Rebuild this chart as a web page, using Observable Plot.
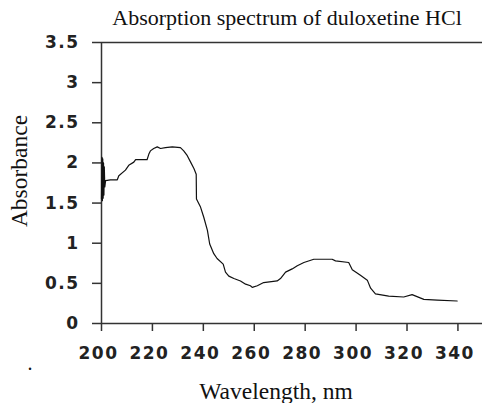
<!DOCTYPE html>
<html>
<head>
<meta charset="utf-8">
<script src="https://cdn.jsdelivr.net/npm/d3@7"></script>
<script src="https://cdn.jsdelivr.net/npm/@observablehq/plot@0.6"></script>
<style>
  html, body { margin: 0; padding: 0; background: #fff; }
  .chart g[aria-label$="tick label"] text { letter-spacing: 1.5px; }
</style>
</head>
<body>
<div id="chart"></div>
<script>
const titleText = "Absorption spectrum of duloxetine HCl";
const xLabel = "Wavelength, nm";
const yLabel = "Absorbance";
const xTicks = [200, 220, 240, 260, 280, 300, 320, 340];
const yTicks = [0, 0.5, 1, 1.5, 2, 2.5, 3, 3.5];

const wavelength = [
  200.0, 200.2, 200.35, 200.5, 200.65, 200.8, 200.95, 201.1, 201.3, 201.6,
  203.5, 206.2, 206.8, 209.4, 210.7, 212.7, 213.4, 217.9, 218.6, 219.2,
  220.5, 221.9, 223.2, 225.1, 227.8, 231.0, 232.3, 233.7, 235.0, 236.3,
  237.2, 237.3, 238.9, 240.2, 241.6, 242.5, 244.1, 245.4, 247.8, 248.7,
  250.0, 252.0, 254.6, 256.6, 258.5, 259.2, 261.2, 263.7, 269.0, 270.3,
  272.3, 274.9, 276.9, 279.5, 283.4, 290.6, 291.9, 297.1, 298.5, 301.7,
  304.4, 305.7, 307.6, 312.8, 318.7, 322.0, 326.6, 331.9, 339.7
];
const absorbance = [
  1.55, 2.07, 1.53, 2.05, 1.56, 2.0, 1.6, 1.95, 1.7, 1.78,
  1.79, 1.79, 1.84, 1.91, 1.97, 2.01, 2.04, 2.04, 2.11, 2.15,
  2.18, 2.20, 2.18, 2.19, 2.20, 2.19, 2.15, 2.09, 2.01, 1.93,
  1.86, 1.55, 1.45, 1.32, 1.16, 0.99, 0.87, 0.81, 0.74, 0.64,
  0.59, 0.56, 0.53, 0.49, 0.47, 0.45, 0.47, 0.51, 0.53, 0.56,
  0.64, 0.68, 0.72, 0.76, 0.80, 0.80, 0.78, 0.76, 0.67, 0.60,
  0.54, 0.44, 0.37, 0.34, 0.33, 0.36, 0.30, 0.29, 0.28
];

const data = wavelength.map((w, i) => ({w, a: absorbance[i]}));

const axisColor = "#333";
const tickFont = {fontFamily: "DejaVu Sans", fontWeight: "bold", fontSize: 17};
const serif = "Liberation Serif";

const chart = Plot.plot({
  className: "chart",
  width: 482,
  height: 403,
  marginTop: 42,
  marginLeft: 101,
  marginRight: 0,
  marginBottom: 80,
  style: {background: "#fff", color: "#222", overflow: "visible"},
  x: {domain: [200, 349.65]},
  y: {domain: [0, 3.5]},
  marks: [
    Plot.ruleY([0, 3.5], {stroke: axisColor, strokeWidth: 1.5}),
    Plot.ruleX([200], {stroke: axisColor, strokeWidth: 1.5}),
    Plot.axisX(xTicks, {
      tickSize: 8, stroke: axisColor, strokeWidth: 1.5,
      tickFormat: () => "", label: null
    }),
    Plot.axisX(xTicks, {
      tickSize: 0, tickPadding: 23, strokeOpacity: 0,
      tickFormat: d => String(d), label: null, fill: "#222", dx: -3, ...tickFont
    }),
    Plot.axisY(yTicks, {
      tickSize: 9, tickPadding: 13, stroke: axisColor, strokeWidth: 1.5,
      tickFormat: d => String(d), label: null, fill: "#222", ...tickFont
    }),
    Plot.line(data, {x: "w", y: "a", stroke: "#111", strokeWidth: 1.2}),
    Plot.text([titleText], {
      frameAnchor: "top", dx: -5, dy: -18, lineAnchor: "bottom",
      fontFamily: serif, fontSize: 22, fill: "#111"
    }),
    Plot.text([xLabel], {
      frameAnchor: "bottom", dx: -16, dy: 75, lineAnchor: "bottom",
      fontFamily: serif, fontSize: 23.5, fill: "#111"
    }),
    Plot.text([yLabel], {
      frameAnchor: "left", dx: -82, dy: -12, rotate: -90, textAnchor: "middle",
      fontFamily: serif, fontSize: 23.5, fill: "#111"
    }),
    Plot.text(["."], {
      frameAnchor: "bottom-left", dx: -74, dy: 46, lineAnchor: "bottom",
      fontFamily: serif, fontSize: 20, fill: "#111"
    })
  ]
});
document.getElementById("chart").appendChild(chart);
</script>
</body>
</html>
